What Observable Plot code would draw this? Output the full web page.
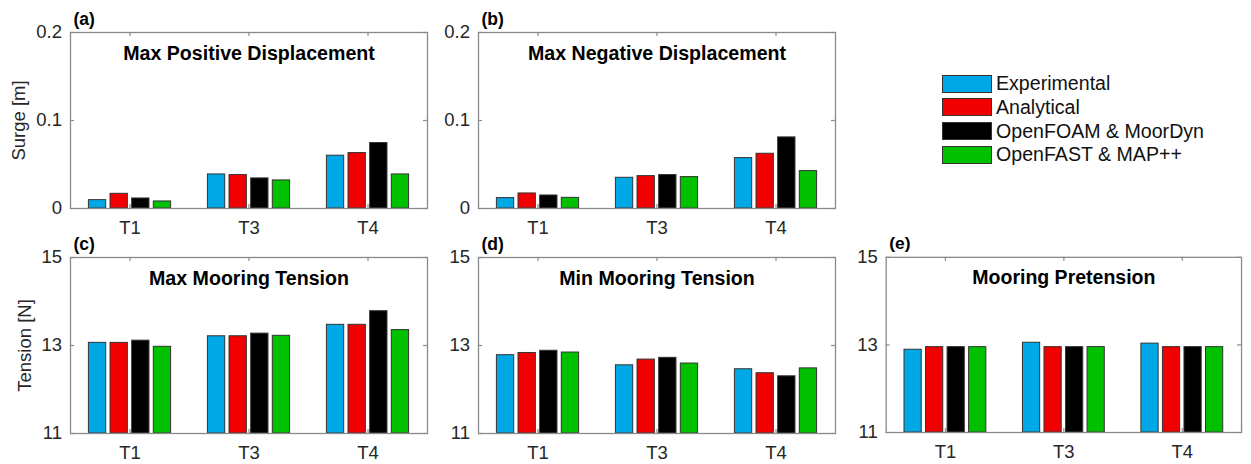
<!DOCTYPE html>
<html>
<head>
<meta charset="utf-8">
<script src="https://cdn.jsdelivr.net/npm/d3@7"></script>
<script src="https://cdn.jsdelivr.net/npm/@observablehq/plot@0.6"></script>
<style>
  html, body { margin: 0; padding: 0; background: #fff; }
  #fig { position: relative; width: 1251px; height: 464px; overflow: hidden;
         font-family: "Liberation Sans", Arial, Helvetica, sans-serif; }
  .panel { position: absolute; }
  .legend { position: absolute; left: 942px; top: 75px; }
  .legend .row { display: flex; align-items: center; height: 17px; margin-bottom: 6.8px; }
  .legend .sw { width: 48px; height: 16px; border: 1px solid #333; box-sizing: content-box; }
  .legend .lab { margin-left: 4px; font-size: 19.6px; color: #111; white-space: nowrap; }
</style>
</head>
<body>
<div id="fig"></div>
<script>
// Load cases on the x axis
const categories = ["T1", "T3", "T4"];

// Methods compared in each group
const seriesNames = ["Experimental", "Analytical", "OpenFOAM & MoorDyn", "OpenFAST & MAP++"];
const seriesColors = ["#00a8e6", "#f00000", "#000000", "#00c000"];

// Rows follow seriesNames, columns follow categories
const maxPositiveDisplacement = [
  [0.0095, 0.0387, 0.0600],
  [0.0167, 0.0380, 0.0630],
  [0.0114, 0.0342, 0.0744],
  [0.0080, 0.0319, 0.0387]
];
const maxNegativeDisplacement = [
  [0.0118, 0.0349, 0.0573],
  [0.0171, 0.0368, 0.0622],
  [0.0148, 0.0380, 0.0808],
  [0.0121, 0.0357, 0.0425]
];
const maxMooringTension = [
  [13.06, 13.21, 13.47],
  [13.06, 13.21, 13.47],
  [13.11, 13.27, 13.78],
  [12.97, 13.22, 13.35]
];
const minMooringTension = [
  [12.78, 12.55, 12.46],
  [12.83, 12.68, 12.37],
  [12.88, 12.72, 12.30],
  [12.84, 12.59, 12.48]
];
const mooringPretension = [
  [12.89, 13.05, 13.03],
  [12.95, 12.95, 12.95],
  [12.95, 12.95, 12.95],
  [12.95, 12.95, 12.95]
];

// Axis ticks
const surgeTicks = [0, 0.1, 0.2];
const tensionTicks = [11, 13, 15];

// Grouped-bar geometry in x-data units (groups sit at 1, 2, 3)
const groupWidth = Math.min(0.8, seriesNames.length / (seriesNames.length + 1.5));
const barPitch = groupWidth / seriesNames.length;
const barWidth = barPitch * 0.8;

const FONT = '"Liberation Sans", Arial, Helvetica, sans-serif';
const GRAY = "#8a8a8a";
const M = {left: 70, right: 10, top: 35, bottom: 35};
const W = 357, H = 176;

function tidy(values) {
  return seriesNames.flatMap((s, si) =>
    categories.map((c, ci) => ({series: s, si, ci, category: c, value: values[si][ci]})));
}

function panel({values, domain, ticks, title, tag, ylabel, ylabelDx, left, top}) {
  const data = tidy(values);
  const base = domain[0];
  const center = d => d.ci + 1 + (d.si - (seriesNames.length - 1) / 2) * barPitch;
  const marks = [
    Plot.rectY(data, {
      x1: d => center(d) - barWidth / 2,
      x2: d => center(d) + barWidth / 2,
      y1: () => base,
      y2: "value",
      fill: "series",
      stroke: "#333",
      strokeWidth: 1
    }),
    // inward tick marks on all four sides
    Plot.tickY(ticks, {y: d => d, stroke: GRAY, strokeWidth: 1.2, insetRight: W - 4}),
    Plot.tickY(ticks, {y: d => d, stroke: GRAY, strokeWidth: 1.2, insetLeft: W - 4}),
    Plot.tickX([1, 2, 3], {x: d => d, stroke: GRAY, strokeWidth: 1.2, insetBottom: H - 4}),
    Plot.tickX([1, 2, 3], {x: d => d, stroke: GRAY, strokeWidth: 1.2, insetTop: H - 4}),
    Plot.frame({stroke: GRAY, strokeWidth: 1.3}),
    Plot.axisY({ticks, tickSize: 0, tickPadding: 8.5, tickFormat: d => String(d),
                label: null, fontSize: 18.5, fill: "#262626"}),
    Plot.axisX({ticks: [1, 2, 3], tickSize: 0, tickPadding: 12,
                tickFormat: i => categories[i - 1], label: null, fontSize: 18.5, fill: "#262626"}),
    Plot.text([title], {text: d => d, frameAnchor: "top", dy: 27, lineAnchor: "bottom",
                        fontSize: 19.6, fontWeight: "bold", fill: "#000"}),
    Plot.text([tag], {text: d => d, frameAnchor: "top-left", dx: 3, dy: -8, textAnchor: "start",
                      lineAnchor: "bottom", fontSize: 17.5, fontWeight: "bold", fill: "#000"})
  ];
  if (ylabel) {
    marks.push(Plot.text([ylabel], {text: d => d, frameAnchor: "left", rotate: -90, dx: ylabelDx,
                                    textAnchor: "middle", lineAnchor: "bottom",
                                    fontSize: 18.5, fill: "#262626"}));
  }
  const chart = Plot.plot({
    width: M.left + W + M.right,
    height: M.top + H + M.bottom,
    marginLeft: M.left, marginRight: M.right, marginTop: M.top, marginBottom: M.bottom,
    x: {domain: [0.5, 3.5]},
    y: {domain},
    color: {domain: seriesNames, range: seriesColors},
    style: {fontFamily: FONT, fontSize: "18px", background: "transparent", overflow: "visible"},
    marks
  });
  const wrap = document.createElement("div");
  wrap.className = "panel";
  wrap.style.left = (left - M.left) + "px";
  wrap.style.top = (top - M.top) + "px";
  wrap.appendChild(chart);
  return wrap;
}

const fig = document.getElementById("fig");
const rowTop = [31.5, 256.7];
const colLeft = [69.5, 478, 886];

fig.appendChild(panel({values: maxPositiveDisplacement, domain: [0, 0.2], ticks: surgeTicks,
  title: "Max Positive Displacement", tag: "(a)", ylabel: "Surge [m]", ylabelDx: -46,
  left: colLeft[0], top: rowTop[0]}));
fig.appendChild(panel({values: maxNegativeDisplacement, domain: [0, 0.2], ticks: surgeTicks,
  title: "Max Negative Displacement", tag: "(b)", left: colLeft[1], top: rowTop[0]}));
fig.appendChild(panel({values: maxMooringTension, domain: [11, 15], ticks: tensionTicks,
  title: "Max Mooring Tension", tag: "(c)", ylabel: "Tension [N]", ylabelDx: -40,
  left: colLeft[0], top: rowTop[1]}));
fig.appendChild(panel({values: minMooringTension, domain: [11, 15], ticks: tensionTicks,
  title: "Min Mooring Tension", tag: "(d)", left: colLeft[1], top: rowTop[1]}));
fig.appendChild(panel({values: mooringPretension, domain: [11, 15], ticks: tensionTicks,
  title: "Mooring Pretension", tag: "(e)", left: colLeft[2], top: rowTop[1]}));

// Legend for the four methods
const legend = document.createElement("div");
legend.className = "legend";
seriesNames.forEach((name, i) => {
  const row = document.createElement("div");
  row.className = "row";
  const sw = document.createElement("div");
  sw.className = "sw";
  sw.style.background = seriesColors[i];
  const lab = document.createElement("span");
  lab.className = "lab";
  lab.textContent = name;
  row.appendChild(sw);
  row.appendChild(lab);
  legend.appendChild(row);
});
fig.appendChild(legend);
</script>
</body>
</html>
